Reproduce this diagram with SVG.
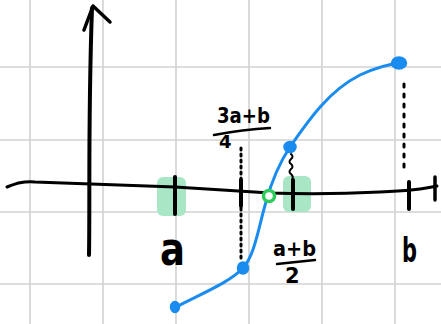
<svg xmlns="http://www.w3.org/2000/svg" width="441" height="324" viewBox="0 0 441 324">
<style>
.grid{stroke:#d2d2d2;stroke-width:1.6;fill:none}
.ink{stroke:#000;fill:none;stroke-linecap:round;stroke-linejoin:round}
.blue{stroke:#1a8cf0;fill:none;stroke-width:3;stroke-linecap:round}
.dot{fill:#1a8cf0;stroke:#1a8cf0;stroke-width:1.5}
.hl{fill:#a8e6c6}
.lbl{font-family:"DejaVu Sans","Liberation Sans",sans-serif;font-weight:bold;fill:#000}
</style>
<rect width="441" height="324" fill="#fff"/>
<g id="grid" class="grid">
<path d="M30,0V324M103,0V324M176,0V324M249,0V324M322,0V324M395,0V324"/>
<path d="M0,67H441M0,140H441M0,212H441M0,284H441"/>
</g>
<g id="highlights">
<rect class="hl" x="157" y="177" width="29" height="39" rx="6"/>
<rect class="hl" x="283" y="176" width="28" height="36" rx="6"/>
</g>
<g id="connectors">
<path class="ink" stroke-width="4" d="M89,255 C90,200 88,120 92,8"/>
<path class="ink" stroke-width="3.5" d="M84,30 L93,6 L110,22"/>
<path class="ink" stroke-width="3" d="M7,187 C15,184 22,181 35,182 C60,183 110,185 175,187 C210,189 240,191 270,193 C300,194 340,194 380,192 C405,191 420,190 437,186"/>
<path class="ink" stroke-width="3" stroke-dasharray="2 4" d="M241,148 V262"/>
<path class="ink" stroke-width="3" stroke-dasharray="3 7" d="M404,84 V172"/>
<path class="ink" stroke-width="2" d="M291,154 q3,3 0,5 q-3,3 0,5 q3,3 0,5 q-3,3 0,5 q3,3 1,6"/>
<path class="blue" d="M174,308 C205,292 230,282 243,268 C255,255 259,225 266,202 C272,180 280,162 290,147 C310,118 330,90 360,75 C375,68 390,64 400,63"/>
</g>
<g id="ticks" class="ink" stroke-width="4">
<path d="M175,177 V214"/>
<path d="M241,180 V206"/>
<path d="M293,180 V209"/>
<path d="M409,182 V209"/>
<path d="M435,177 V200" stroke-width="3.5"/>
</g>
<g id="root">
<circle cx="269" cy="196" r="5.5" fill="#fff" stroke="#2ecc5a" stroke-width="3.5"/>
</g>
<g id="points">
<ellipse class="dot" cx="175" cy="307" rx="4.5" ry="5.5"/>
<ellipse class="dot" cx="243" cy="268" rx="5.5" ry="6"/>
<ellipse class="dot" cx="290" cy="147" rx="6" ry="5.5"/>
<ellipse class="dot" cx="399" cy="63" rx="7.5" ry="6"/>
</g>
<g id="label-a"><text class="lbl" x="160" y="265" font-size="46" textLength="25" lengthAdjust="spacingAndGlyphs">a</text></g>
<g id="label-b"><text class="lbl" x="402" y="262" font-size="34" textLength="15" lengthAdjust="spacingAndGlyphs">b</text></g>
<g id="label-mid">
<text class="lbl" x="273" y="256" font-size="22" textLength="43" lengthAdjust="spacingAndGlyphs">a+b</text>
<path class="ink" stroke-width="2.5" d="M277,264 L315,260"/>
<text class="lbl" x="285" y="283" font-size="21">2</text>
</g>
<g id="label-quarter">
<text class="lbl" x="217" y="123" font-size="21" textLength="53" lengthAdjust="spacingAndGlyphs">3a+b</text>
<path class="ink" stroke-width="2.5" d="M214,135 C235,131 252,129 270,128"/>
<text class="lbl" x="219" y="148" font-size="18">4</text>
</g>
</svg>
